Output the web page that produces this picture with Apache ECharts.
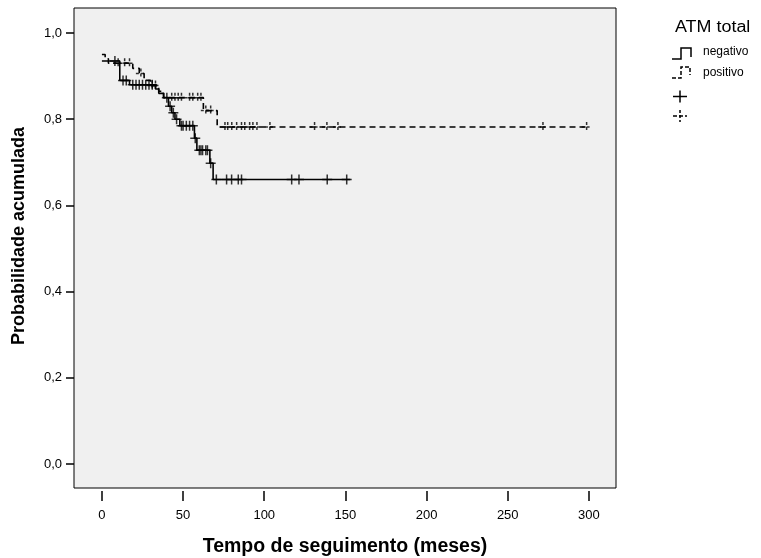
<!DOCTYPE html>
<html><head><meta charset="utf-8">
<script src="https://cdn.jsdelivr.net/npm/echarts@6/dist/echarts.min.js"></script>
<style>html,body{margin:0;padding:0;background:#fff}#c{width:761px;height:558px}</style>
</head><body><div id="c"></div>
<script>
// Tick values
const xTicks = [0, 50, 100, 150, 200, 250, 300];
const yTicks = [0, 0.2, 0.4, 0.6, 0.8, 1.0];
// ATM negativo (solid): step times and cumulative survival
const negTimes = [0, 11, 17, 33, 35, 38, 41, 43, 45, 48, 57, 58.5, 66.5, 68.5, 153];
const negSurv  = [0.935, 0.89, 0.88, 0.87, 0.86, 0.85, 0.83, 0.815, 0.80, 0.785, 0.756, 0.728, 0.698, 0.66, 0.66];
const negCensor = [8, 13, 15, 19, 21, 23, 25, 27, 29, 31, 40, 42, 44, 46, 49, 50, 52, 54, 56, 57.5, 60, 61, 62, 64, 65, 67, 70.5, 76.8, 79.9, 84, 86, 116.9, 121.4, 138.8, 150.8];
// ATM positivo (dashed)
const posTimes = [0, 2, 4, 19, 23, 26, 30, 35, 38, 62.5, 71, 298.6];
const posSurv  = [0.95, 0.94, 0.93, 0.918, 0.906, 0.89, 0.878, 0.865, 0.85, 0.82, 0.782, 0.782];
const posCensor = [10, 14, 17, 24, 31, 33, 43, 45, 47, 49, 54, 56, 59, 61, 64, 67, 75.8, 77.5, 80, 83, 86, 88, 91, 93, 95.5, 103.5, 131, 138.6, 145.4, 271.7, 298.6];

function survAt(times, surv, t) {
  let v = surv[0];
  for (let i = 0; i < times.length; i++) { if (times[i] <= t) v = surv[i]; }
  return v;
}
const FONT = 'Liberation Sans, Arial, Helvetica, sans-serif';
const plusPath = 'path://M5,0 L5,10 M0,5 L10,5';

const chart = echarts.init(document.getElementById('c'), null, {renderer: 'canvas'});
chart.setOption({
  animation: false,
  backgroundColor: '#ffffff',
  grid: {left: 74, top: 8, width: 542, height: 480, show: true, backgroundColor: '#f0f0f0', borderColor: '#000', borderWidth: 1},
  xAxis: {
    type: 'value', min: -17.2, max: 316.7, offset: 3, position: 'bottom',
    axisLine: {show: false, onZero: false},
    axisTick: {show: true, inside: false, length: 10, customValues: xTicks, lineStyle: {color: '#000', width: 1.5}},
    axisLabel: {customValues: xTicks, color: '#000', fontSize: 13, fontFamily: FONT, margin: 18},
    splitLine: {show: false}
  },
  yAxis: {
    type: 'value', min: -0.0557, max: 1.058, position: 'left',
    axisLine: {show: false, onZero: false},
    axisTick: {show: true, inside: false, length: 8, customValues: yTicks, lineStyle: {color: '#000', width: 1.5}},
    axisLabel: {customValues: yTicks, color: '#000', fontSize: 13, fontFamily: FONT, margin: 12,
      formatter: v => v.toFixed(1).replace('.', ',')},
    splitLine: {show: false}
  },
  series: [
    {type: 'line', step: 'end', symbol: 'none', z: 3,
     data: negTimes.map((t, i) => [t, negSurv[i]]),
     lineStyle: {color: '#000', width: 1.6}},
    {type: 'line', step: 'end', symbol: 'none', z: 3,
     data: posTimes.map((t, i) => [t, posSurv[i]]),
     lineStyle: {color: '#000', width: 1.6, type: [6, 4]}},
    {type: 'scatter', symbol: plusPath, symbolSize: 10, z: 4,
     data: negCensor.map(t => [t, survAt(negTimes, negSurv, t)]),
     itemStyle: {color: 'rgba(0,0,0,0)', borderColor: '#000', borderWidth: 1.5}},
    {type: 'scatter', symbol: plusPath, symbolSize: 10, z: 4,
     data: posCensor.map(t => [t, survAt(posTimes, posSurv, t)]),
     itemStyle: {color: 'rgba(0,0,0,0)', borderColor: '#000', borderWidth: 1.5, borderType: [3, 2]}}
  ],
  graphic: [
    {type: 'text', x: 345, y: 547, style: {text: 'Tempo de seguimento (meses)', fill: '#000', font: 'bold 19.5px ' + FONT, textAlign: 'center', textVerticalAlign: 'middle'}},
    {type: 'text', x: 19, y: 236, rotation: Math.PI / 2, style: {text: 'Probabilidade acumulada', fill: '#000', font: 'bold 18px ' + FONT, textAlign: 'center', textVerticalAlign: 'middle'}},
    {type: 'text', x: 675, y: 28, scaleX: 1.12, style: {text: 'ATM total', fill: '#000', font: '16px ' + FONT, textAlign: 'left', textVerticalAlign: 'middle'}},
    {type: 'polyline', shape: {points: [[672, 59], [681, 59], [681, 48], [691, 48], [691, 57]]}, style: {stroke: '#000', lineWidth: 1.5, fill: null}},
    {type: 'text', x: 703, y: 52, style: {text: 'negativo', fill: '#000', font: '12px ' + FONT, textAlign: 'left', textVerticalAlign: 'middle'}},
    {type: 'polyline', shape: {points: [[672, 78], [681, 78], [681, 67], [690, 67], [690, 75]]}, style: {stroke: '#000', lineWidth: 1.5, fill: null, lineDash: [4, 2]}},
    {type: 'text', x: 703, y: 73, style: {text: 'positivo', fill: '#000', font: '12px ' + FONT, textAlign: 'left', textVerticalAlign: 'middle'}},
    {type: 'line', shape: {x1: 673, y1: 96.5, x2: 687, y2: 96.5}, style: {stroke: '#000', lineWidth: 1.5}},
    {type: 'line', shape: {x1: 680, y1: 90.5, x2: 680, y2: 102.5}, style: {stroke: '#000', lineWidth: 1.5}},
    {type: 'line', shape: {x1: 673, y1: 116, x2: 687, y2: 116}, style: {stroke: '#000', lineWidth: 1.5, lineDash: [4, 2]}},
    {type: 'line', shape: {x1: 680, y1: 110, x2: 680, y2: 122}, style: {stroke: '#000', lineWidth: 1.5, lineDash: [3, 2]}}
  ]
});
</script></body></html>
